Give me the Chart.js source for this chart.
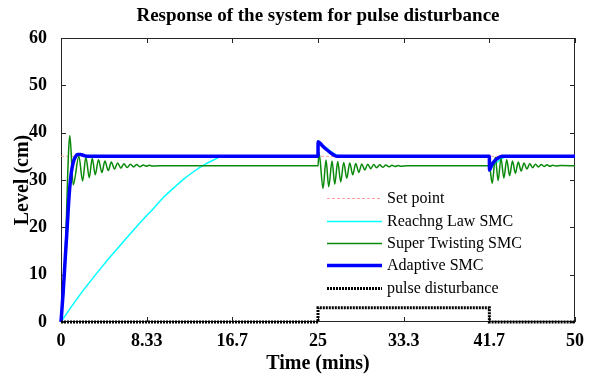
<!DOCTYPE html>
<html><head><meta charset="utf-8">
<script src="https://cdn.jsdelivr.net/npm/chart.js@4.4.1/dist/chart.umd.min.js"></script>
<style>html,body{margin:0;padding:0;background:#fff;}canvas{display:block;}</style>
</head><body>
<canvas id="c" width="589" height="376"></canvas>
<script>
const chartTitle = 'Response of the system for pulse disturbance';
const xAxisTitle = 'Time (mins)';
const yAxisTitle = 'Level (cm)';
const xTickValues = [0, 8.3333, 16.6667, 25, 33.3333, 41.6667, 50];
const xTickLabels = ['0', '8.33', '16.7', '25', '33.3', '41.7', '50'];
const seriesNames = ['Set point', 'Reachng Law SMC', 'Super Twisting SMC', 'Adaptive SMC', 'pulse disturbance'];

const setPointTime = [0, 50];
const setPointLevel = [35, 35];

const reachingTime = [0, 1, 2, 3, 4, 5, 6, 7, 8, 9, 10, 11, 12, 13, 14, 15, 15.6, 25, 25.01, 25.4, 25.8, 26.2, 26.6, 27.0, 27.2, 41.67, 41.68, 42.0, 42.4, 42.8, 43.2, 43.4, 50];
const reachingLevel = [0, 3.2, 6.2, 9.0, 11.7, 14.3, 16.8, 19.3, 21.7, 24.0, 26.4, 28.4, 30.3, 31.9, 33.3, 34.4, 35, 35, 38.1, 37.5, 36.8, 36.1, 35.5, 35.1, 35, 35, 32.1, 32.9, 33.7, 34.4, 34.9, 35, 35];

const superTime = [0, 0.3, 0.5, 0.65, 0.76, 0.86, 1.19, 1.74, 2.10, 2.42,
  2.75, 3.04, 3.33, 3.65, 3.98, 4.27, 4.60, 4.89, 5.21, 5.50,
  5.83, 6.12, 6.44, 6.75, 7.06, 7.37, 7.68, 8.0, 8.3, 8.6,
  8.9, 9.5, 25, 25.1, 25.49, 25.78, 26.04, 26.37, 26.63, 26.92,
  27.21, 27.5, 27.8, 28.09, 28.38, 28.67, 28.97, 29.26, 29.55, 29.84,
  30.13, 30.42, 30.71, 31.0, 31.3, 31.6, 31.9, 32.2, 32.5, 32.8,
  33.1, 33.6, 41.67, 41.95, 42.25, 42.52, 42.8, 43.08, 43.36, 43.64,
  43.92, 44.2, 44.48, 44.76, 45.04, 45.32, 45.6, 45.88, 46.16, 46.44,
  46.72, 47.0, 47.28, 47.56, 47.84, 48.12, 48.6, 50];
const superLevel = [0, 8, 20, 31, 37, 39.4, 29.0, 35.0, 29.8, 34.8,
  30.5, 34.6, 31.1, 34.3, 31.6, 34.0, 32.0, 33.8, 32.3, 33.6,
  32.5, 33.45, 32.65, 33.35, 32.75, 33.25, 32.8, 33.15, 32.9, 33.1,
  32.95, 33.0, 33.0, 35.8, 28.2, 34.2, 28.6, 34.0, 29.1, 33.9,
  29.6, 33.7, 30.4, 33.6, 31.1, 33.5, 31.6, 33.4, 32.1, 33.35,
  32.4, 33.3, 32.6, 33.2, 32.7, 33.15, 32.8, 33.1, 32.85, 33.05,
  32.9, 33.0, 33.0, 29.3, 34.8, 29.9, 34.6, 30.4, 34.3, 30.9,
  34.0, 31.4, 33.8, 31.9, 33.6, 32.3, 33.45, 32.6, 33.35, 32.75,
  33.25, 32.85, 33.2, 32.9, 33.12, 32.95, 33.05, 33.0];

const adaptiveTime = [0, 0.2, 0.4, 0.6, 0.8, 1.0, 1.2, 1.4, 1.6, 1.9, 2.3, 3.0, 25, 25.01, 25.4, 25.8, 26.2, 26.6, 26.85, 41.67, 41.68, 41.9, 42.2, 42.5, 42.9, 50];
const adaptiveLevel = [0, 6, 13, 20, 27, 31.5, 33.8, 34.9, 35.4, 35.4, 35.1, 35, 35, 38.1, 37.3, 36.5, 35.8, 35.2, 35, 35, 32.1, 33.2, 34.1, 34.6, 35, 35];

const pulseTime = [0, 25, 25, 41.67, 41.67, 50];
const pulseLevel = [0, 0, 3, 3, 0, 0];

const pts = (t, v) => t.map((x, i) => ({x: x, y: v[i]}));
const SERIF = "'Liberation Serif', 'Times New Roman', serif";

const frame = {
  id: 'frame',
  beforeDatasetsDraw(chart) {
    const {ctx, chartArea: a, scales: {x, y}} = chart;
    ctx.save();
    ctx.strokeStyle = '#262626';
    ctx.lineWidth = 1;
    ctx.strokeRect(a.left + 0.5, a.top + 0.5, a.right - a.left - 1, a.bottom - a.top - 1);
    ctx.beginPath();
    const L = 5;
    x.ticks.forEach(t => {
      const px = Math.round(x.getPixelForValue(t.value)) + 0.5;
      ctx.moveTo(px, a.bottom); ctx.lineTo(px, a.bottom - L);
      ctx.moveTo(px, a.top); ctx.lineTo(px, a.top + L);
    });
    y.ticks.forEach(t => {
      const py = Math.round(y.getPixelForValue(t.value)) + 0.5;
      ctx.moveTo(a.left, py); ctx.lineTo(a.left + L, py);
      ctx.moveTo(a.right, py); ctx.lineTo(a.right - L, py);
    });
    ctx.stroke();
    ctx.restore();
  }
};

const legendBox = {
  id: 'legendBox',
  afterDraw(chart) {
    const {ctx, chartArea: a} = chart;
    const x0 = a.left + 266, lineLen = 55, gap = 5;
    const y0 = a.top + 160.3, dy = 22.3;
    ctx.save();
    ctx.font = '16px ' + SERIF;
    ctx.textBaseline = 'middle';
    ctx.fillStyle = '#000';
    chart.data.datasets.forEach((ds, i) => {
      const yy = Math.round(y0 + i * dy) + 0.5;
      ctx.save();
      ctx.strokeStyle = ds.borderColor;
      ctx.lineWidth = ds.borderWidth;
      ctx.setLineDash(ds.borderDash || []);
      ctx.beginPath();
      ctx.moveTo(x0, yy); ctx.lineTo(x0 + lineLen, yy);
      ctx.stroke();
      ctx.restore();
      ctx.fillText(ds.label, x0 + lineLen + gap, yy);
    });
    ctx.restore();
  }
};

new Chart(document.getElementById('c'), {
  type: 'line',
  data: {
    datasets: [
      {label: seriesNames[0], data: pts(setPointTime, setPointLevel), borderColor: '#ff9d9d', borderWidth: 1, borderDash: [3, 2], pointRadius: 0, order: 5, tension: 0},
      {label: seriesNames[1], data: pts(reachingTime, reachingLevel), borderColor: '#00ffff', borderWidth: 1.5, pointRadius: 0, order: 4, cubicInterpolationMode: 'monotone'},
      {label: seriesNames[2], data: pts(superTime, superLevel), borderColor: '#0a8a0a', borderWidth: 1.5, pointRadius: 0, order: 3, cubicInterpolationMode: 'monotone'},
      {label: seriesNames[3], data: pts(adaptiveTime, adaptiveLevel), borderColor: '#0000ff', borderWidth: 3.5, pointRadius: 0, order: 2, cubicInterpolationMode: 'monotone'},
      {label: seriesNames[4], data: pts(pulseTime, pulseLevel), borderColor: '#000000', borderWidth: 3, borderDash: [2, 1], pointRadius: 0, order: 1, tension: 0}
    ]
  },
  options: {
    responsive: false,
    animation: false,
    devicePixelRatio: 1,
    layout: {padding: {left: 0, right: 14, top: 0, bottom: 0}},
    datasets: {line: {clip: 5}},
    plugins: {
      legend: {display: false},
      tooltip: {enabled: false},
      title: {
        display: true, text: chartTitle, fullSize: false, color: '#000',
        font: {family: SERIF, size: 19, weight: 'bold'},
        padding: {top: 5, bottom: 10.2}
      }
    },
    scales: {
      x: {
        type: 'linear', min: 0, max: 50,
        afterBuildTicks: s => { s.ticks = xTickValues.map(v => ({value: v})); },
        afterFit: s => { s.height = 54; },
        grid: {display: false}, border: {display: false},
        ticks: {
          autoSkip: false, maxRotation: 0, color: '#000', padding: 1,
          font: {family: SERIF, size: 18, weight: 'bold'},
          callback: (v, i) => xTickLabels[i]
        },
        title: {display: true, text: xAxisTitle, color: '#000', font: {family: SERIF, size: 20, weight: 'bold'}, padding: {top: 0, bottom: 0}}
      },
      y: {
        type: 'linear', min: 0, max: 60,
        afterFit: s => { s.width = 61; },
        grid: {display: false}, border: {display: false},
        ticks: {stepSize: 10, color: '#000', padding: 6, font: {family: SERIF, size: 18, weight: 'bold'}},
        title: {display: true, text: yAxisTitle, color: '#000', font: {family: SERIF, size: 20, weight: 'bold'}, padding: {top: 11, bottom: 0}}
      }
    }
  },
  plugins: [frame, legendBox]
});
</script>
</body></html>
